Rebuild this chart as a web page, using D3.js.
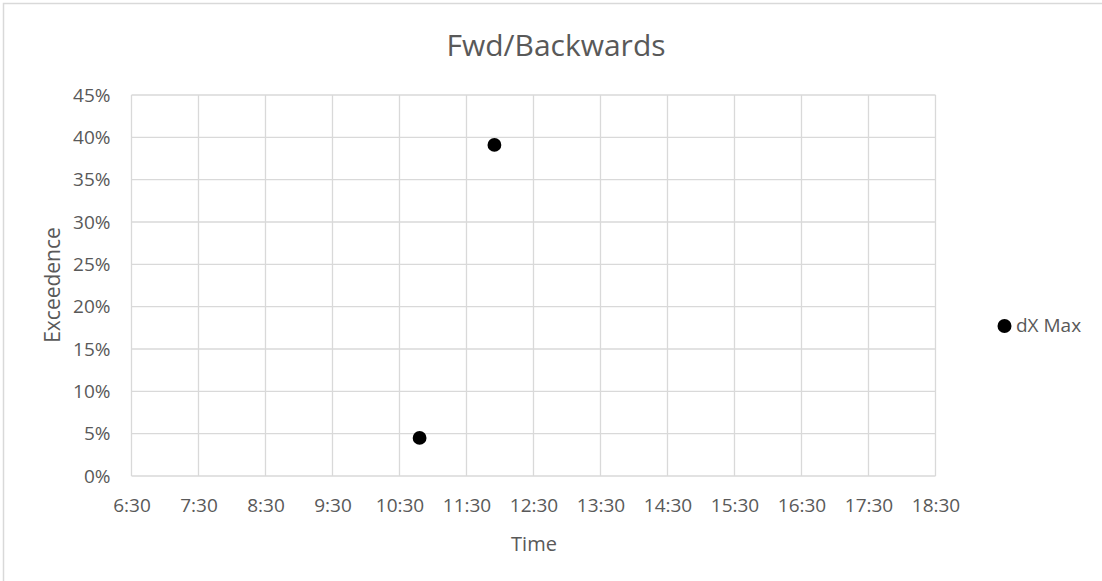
<!DOCTYPE html>
<html><head><meta charset="utf-8">
<script src="https://cdn.jsdelivr.net/npm/d3@7"></script>
<style>body{margin:0;background:#fff}svg{display:block}text{font-family:"Open Sans",sans-serif;fill:#595959}</style>
</head><body><svg id="c" width="1102" height="581"></svg>
<script>
const title = "Fwd/Backwards";
const seriesName = "dX Max";
const times = ["10:48", "11:55"];
const values = [0.045, 0.391];
const xTickLabels = ["6:30","7:30","8:30","9:30","10:30","11:30","12:30","13:30","14:30","15:30","16:30","17:30","18:30"];
const yTicks = [0,0.05,0.10,0.15,0.20,0.25,0.30,0.35,0.40,0.45];
const xTitle = "Time", yTitle = "Exceedence";

const parse = s => { const [h,m] = s.split(":").map(Number); return new Date(2000,0,1,h,m); };
const svg = d3.select("#c");
const L = 131.5, R = 935.5, T = 95, B = 476;
const x = d3.scaleTime().domain([parse("6:30"), parse("18:30")]).range([L, R]);
const y = d3.scaleLinear().domain([0, 0.45]).range([B, T]);

// outer border
svg.append("path").attr("d","M3.5,581 V3.5 H1102").attr("fill","none").attr("stroke","#d9d9d9").attr("stroke-width",1.5);

// grid
const xt = xTickLabels.map(parse);
svg.append("g").selectAll("line").data(xt).join("line")
  .attr("x1",d=>x(d)).attr("x2",d=>x(d)).attr("y1",T).attr("y2",B)
  .attr("stroke","#d9d9d9").attr("stroke-width",1.3);
svg.append("g").selectAll("line").data(yTicks).join("line")
  .attr("x1",L).attr("x2",R).attr("y1",d=>y(d)).attr("y2",d=>y(d))
  .attr("stroke","#d9d9d9").attr("stroke-width",1.3);

// axes labels
const fmtP = d3.format(".0%");
const yAx = svg.append("g").attr("transform",`translate(${L-18},0)`)
  .call(d3.axisLeft(y).tickValues(yTicks).tickFormat(fmtP).tickSize(0));
yAx.select(".domain").remove();
yAx.selectAll("text").style("font-size","19px").attr("fill","#595959");
const xAx = svg.append("g").attr("transform",`translate(0,${B+19})`)
  .call(d3.axisBottom(x).tickValues(xt).tickFormat((d,i)=>xTickLabels[i]).tickSize(0));
xAx.select(".domain").remove();
xAx.selectAll("text").style("font-size","19px").attr("fill","#595959");

svg.append("text").attr("x",556).attr("y",56).attr("text-anchor","middle").style("font-size","30px").text(title);
svg.append("text").attr("x",534).attr("y",551).attr("text-anchor","middle").style("font-size","20px").text(xTitle);
svg.append("text").attr("transform","translate(60,285) rotate(-90)").attr("text-anchor","middle").style("font-size","21px").text(yTitle);

// points
svg.append("g").selectAll("circle").data(times.map((t,i)=>({t:parse(t),v:values[i]}))).join("circle")
  .attr("cx",d=>x(d.t)).attr("cy",d=>y(d.v)).attr("r",6.9).attr("fill","#000");

// legend
svg.append("circle").attr("cx",1004.5).attr("cy",326).attr("r",7).attr("fill","#000");
svg.append("text").attr("x",1016).attr("y",332).style("font-size","19px").text(seriesName);
</script></body></html>
